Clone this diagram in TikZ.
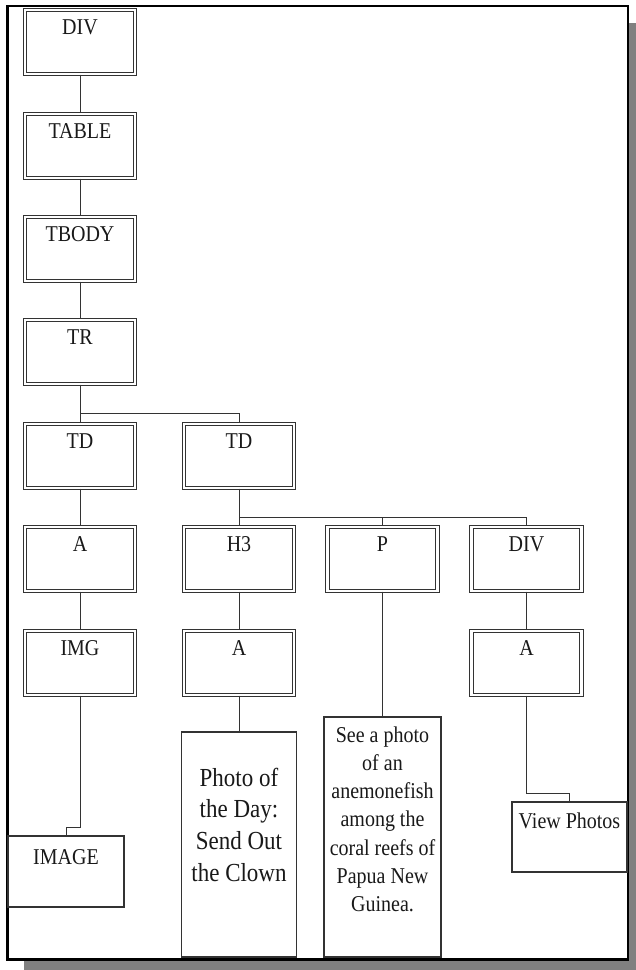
\documentclass[tikz,border=0pt]{standalone}
\usepackage{graphicx}
\usepackage{fontspec}
\setmainfont{Liberation Serif}
\newcommand\vstr[1]{\scalebox{1}[1.13]{#1}}
\begin{document}
\begin{tikzpicture}[x=1pt,y=-1pt,
  dbox/.style={draw=black!80, double=white, double distance=2.2pt, line width=1.1pt,
    rectangle, minimum width=110pt, inner xsep=0pt, inner ysep=0pt,
    text height=24pt, text depth=40pt, font=\fontsize{20}{24}\selectfont, text=black!90},
  sbox/.style={draw=black!80, line width=1.2pt, rectangle, inner xsep=0pt, inner ysep=0pt,
    text=black!90},
  conn/.style={draw=black!80, line width=1pt}]
\useasboundingbox (0,0) rectangle (636,970);
% shadow and frame
\fill[gray] (24,23) rectangle (636,970);
\draw[fill=white, line width=2.6pt] (7.5,6) rectangle (628,959.5);
% column 1
\node[dbox] (div1) at (80,42) {\vstr{DIV}};
\node[dbox] (table) at (80,146) {\vstr{TABLE}};
\node[dbox] (tbody) at (80,249) {\vstr{TBODY}};
\node[dbox] (tr) at (80,352) {\vstr{TR}};
\node[dbox] (td1) at (80,456) {\vstr{TD}};
\node[dbox] (a1) at (80,559) {\vstr{A}};
\node[dbox] (img) at (80,663) {\vstr{IMG}};
\node[sbox, minimum width=116pt, text height=28pt, text depth=43pt, font=\fontsize{20}{24}\selectfont] (image) at (66,871.5) {\vstr{IMAGE}};
% column 2
\node[dbox] (td2) at (239,456) {\vstr{TD}};
\node[dbox] (h3) at (239,559) {\vstr{H3}};
\node[dbox] (a2) at (239,663) {\vstr{A}};
\node[sbox, minimum width=115pt, text height=54pt, text depth=171pt] (photo) at (239,844.5)
  {\vstr{\parbox[t]{115pt}{\centering\fontsize{23}{28.3}\selectfont Photo of\\the Day:\\Send Out\\the Clown}}};
% column 3
\node[dbox] (p) at (382.5,559) {\vstr{P}};
\node[sbox, minimum width=117pt, text height=25pt, text depth=215pt] (ptext) at (382.5,837)
  {\vstr{\parbox[t]{117pt}{\centering\fontsize{20}{25}\selectfont See a photo\\of an\\anemonefish\\among the\\coral reefs of\\Papua New\\Guinea.}}};
% column 4
\node[dbox] (div2) at (526.5,559) {\vstr{DIV}};
\node[dbox] (a3) at (526.5,663) {\vstr{A}};
\node[sbox, minimum width=115pt, text height=26pt, text depth=44pt, font=\fontsize{20}{24}\selectfont] (view) at (569.5,837) {\vstr{View Photos}};
% helper coordinates
\coordinate (bus1) at (80,413);
\coordinate (bus2) at (239,517);
\coordinate (k1) at (66,827);
\coordinate (k2) at (569.5,793);
% connectors
\draw[conn] (div1.south) -- (table.north);
\draw[conn] (table.south) -- (tbody.north);
\draw[conn] (tbody.south) -- (tr.north);
\draw[conn] (tr.south) -- (td1.north);
\draw[conn] (bus1) -| (td2.north);
\draw[conn] (td1.south) -- (a1.north);
\draw[conn] (a1.south) -- (img.north);
\draw[conn] (img.south) |- (k1) -- (image.north);
\draw[conn] (td2.south) -- (h3.north);
\draw[conn] (bus2) -| (p.north);
\draw[conn] (bus2) -| (div2.north);
\draw[conn] (h3.south) -- (a2.north);
\draw[conn] (a2.south) -- (photo.north);
\draw[conn] (p.south) -- (ptext.north);
\draw[conn] (div2.south) -- (a3.north);
\draw[conn] (a3.south) |- (k2) -- (view.north);
\end{tikzpicture}
\end{document}
